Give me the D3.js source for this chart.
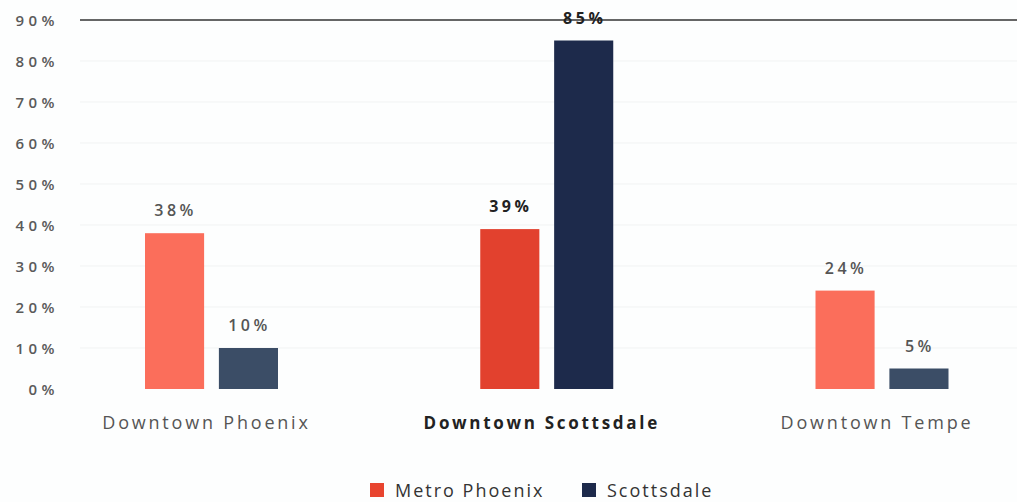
<!DOCTYPE html>
<html>
<head>
<meta charset="utf-8">
<script src="https://cdn.jsdelivr.net/npm/d3@7"></script>
<style>
  body { margin: 0; background: #fdfefe; }
  svg { font-family: "Open Sans", sans-serif; }
</style>
</head>
<body>
<svg id="chart" width="1017" height="502"></svg>
<script>
// data
var categories = ["Downtown Phoenix", "Downtown Scottsdale", "Downtown Tempe"];
var series = ["Metro Phoenix", "Scottsdale"];
var metroValues = [38, 39, 24];
var scottsdaleValues = [10, 85, 5];
var yTicks = [0, 10, 20, 30, 40, 50, 60, 70, 80, 90];
var highlight = "Downtown Scottsdale";

var lightColors = ["#fb6e5b", "#3b4d66"];
var darkColors = ["#e2412e", "#1d2a4b"];
var legendColors = ["#e8442f", "#1d2a4b"];

var svg = d3.select("#chart");

var y = d3.scaleLinear()
    .domain([0, 90])
    .range([389, 20]);

var x0 = d3.scalePoint()
    .domain(categories)
    .range([211.5, 882]);

var x1 = d3.scaleBand()
    .domain(series)
    .range([-66.5, 66.5])
    .paddingInner(0.2);

// faint gridlines
svg.append("g")
  .selectAll("line")
  .data(yTicks.slice(1, -1))
  .enter().append("line")
    .attr("x1", 80)
    .attr("x2", 1017)
    .attr("y1", function(d) { return y(d); })
    .attr("y2", function(d) { return y(d); })
    .style("stroke", "#f1f3f3")
    .style("stroke-width", 1);

// y axis labels
var yAxis = d3.axisLeft(y)
    .tickValues(yTicks)
    .tickSize(0)
    .tickPadding(0)
    .tickFormat(function(d) { return d + "%"; });

var yg = svg.append("g")
    .attr("transform", "translate(59,0)")
    .call(yAxis);
yg.select(".domain").remove();
yg.selectAll("text")
    .attr("dy", "0.35em")
    .style("font-family", "'Open Sans', sans-serif")
    .style("font-size", "15px")
    .style("font-weight", "600")
    .style("letter-spacing", "4.5px")
    .style("fill", "#5a5a5a");

// top rule at 90%
svg.append("line")
    .attr("x1", 80)
    .attr("x2", 1017)
    .attr("y1", y(90))
    .attr("y2", y(90))
    .style("stroke", "#333")
    .style("stroke-width", 1.6);

var rows = [];
categories.forEach(function(c, i) {
  rows.push({cat: c, s: 0, value: metroValues[i]});
  rows.push({cat: c, s: 1, value: scottsdaleValues[i]});
});

function barColor(d) {
  return d.cat == highlight ? darkColors[d.s] : lightColors[d.s];
}

svg.append("g")
  .selectAll("rect")
  .data(rows)
  .enter().append("rect")
    .attr("x", function(d) { return x0(d.cat) + x1(series[d.s]); })
    .attr("y", function(d) { return y(d.value); })
    .attr("width", x1.bandwidth())
    .attr("height", function(d) { return y(0) - y(d.value); })
    .style("fill", barColor);

// value labels
svg.append("g")
  .selectAll("text")
  .data(rows)
  .enter().append("text")
    .attr("x", function(d) { return x0(d.cat) + x1(series[d.s]) + x1.bandwidth() / 2 + 1; })
    .attr("y", function(d) { return y(d.value) - 17; })
    .style("text-anchor", "middle")
    .style("font-size", "16px")
    .style("font-weight", function(d) { return d.cat == highlight ? "700" : "600"; })
    .style("letter-spacing", "3.5px")
    .style("fill", function(d) { return d.cat == highlight ? "#222" : "#555"; })
    .text(function(d) { return d.value + "%"; });

// category labels
svg.append("g")
  .selectAll("text")
  .data(categories)
  .enter().append("text")
    .attr("x", function(d) { return x0(d) - 5; })
    .attr("y", 429)
    .style("text-anchor", "middle")
    .style("font-size", function(d) { return d == highlight ? "17px" : "18px"; })
    .style("font-weight", function(d) { return d == highlight ? "700" : "400"; })
    .style("letter-spacing", function(d) { return d == highlight ? "2.7px" : "2.8px"; })
    .style("fill", function(d) { return d == highlight ? "#222" : "#555"; })
    .text(function(d) { return d; });

// legend
var legendX = [370, 582];
var legend = svg.append("g")
  .selectAll("g")
  .data(series)
  .enter().append("g")
    .attr("transform", function(d, i) { return "translate(" + legendX[i] + ",483)"; });

legend.append("rect")
    .attr("width", 14)
    .attr("height", 14)
    .style("fill", function(d, i) { return legendColors[i]; });

legend.append("text")
    .attr("x", 25)
    .attr("y", 13.5)
    .style("font-size", "18px")
    .style("letter-spacing", "2px")
    .style("fill", "#333")
    .text(function(d) { return d; });
</script>
</body>
</html>
